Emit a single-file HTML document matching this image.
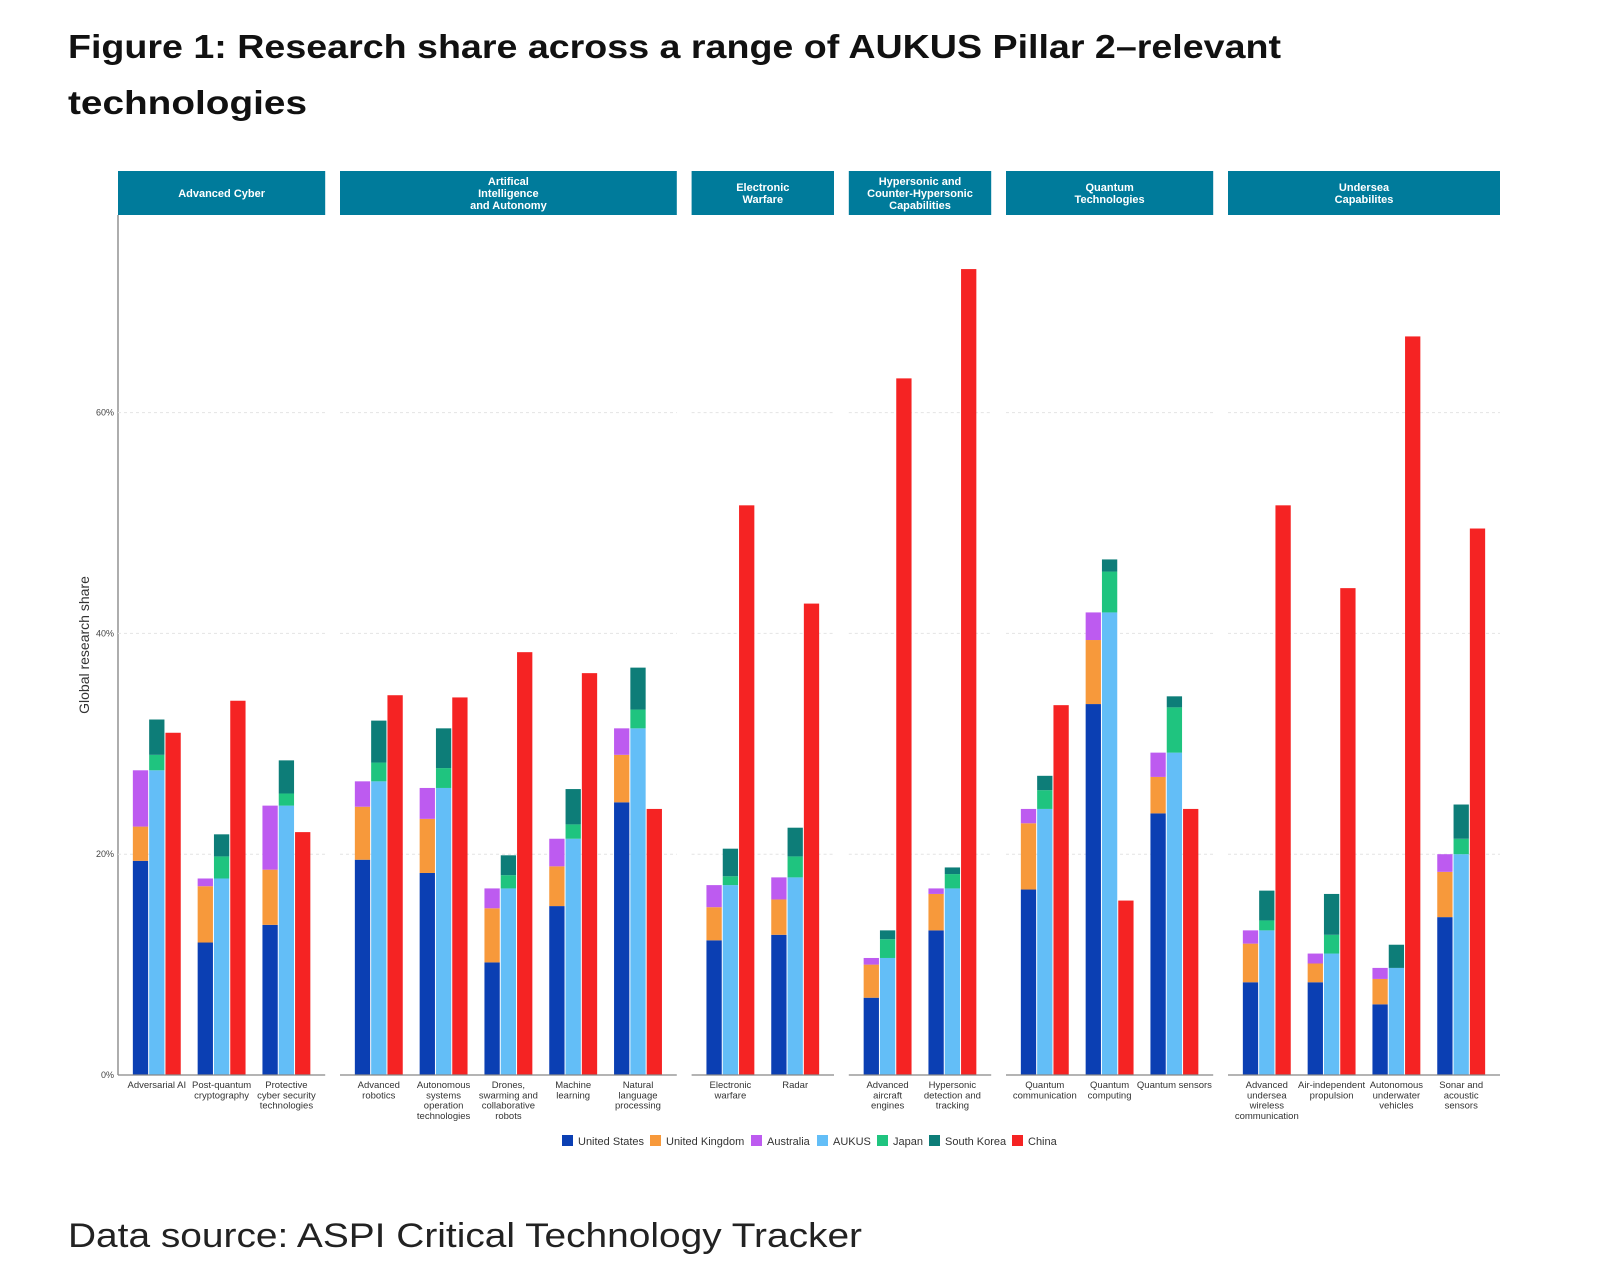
<!DOCTYPE html>
<html><head><meta charset="utf-8"><style>
html,body{margin:0;padding:0;background:#fff;}
svg{display:block;font-family:"Liberation Sans",Arial,sans-serif;}
</style></head><body>
<svg id="chart" width="1600" height="1273" viewBox="0 0 1600 1273" xmlns="http://www.w3.org/2000/svg">
<text x="68" y="58" font-size="33" font-weight="bold" fill="#111" textLength="1213" lengthAdjust="spacingAndGlyphs">Figure 1: Research share across a range of AUKUS Pillar 2–relevant</text>
<text x="68" y="114" font-size="33" font-weight="bold" fill="#111" textLength="239" lengthAdjust="spacingAndGlyphs">technologies</text>
<text x="68" y="1247" font-size="34" fill="#222" textLength="794" lengthAdjust="spacingAndGlyphs">Data source: ASPI Critical Technology Tracker</text>
<g id="plot"></g>
</svg>
<script>
const panels = ["Advanced Cyber|", "Artifical|Intelligence|and Autonomy", "Electronic|Warfare", "Hypersonic and|Counter-Hypersonic|Capabilities", "Quantum|Technologies", "Undersea|Capabilites"];
const panelSizes = [3, 5, 2, 2, 3, 4];
const categories = ["Adversarial AI","Post-quantum|cryptography","Protective|cyber security|technologies","Advanced|robotics","Autonomous|systems|operation|technologies","Drones,|swarming and|collaborative|robots","Machine|learning","Natural|language|processing","Electronic|warfare","Radar","Advanced|aircraft|engines","Hypersonic|detection and|tracking","Quantum|communication","Quantum|computing","Quantum sensors","Advanced|undersea|wireless|communication","Air-independent|propulsion","Autonomous|underwater|vehicles","Sonar and|acoustic|sensors"];
const usShare = [19.4,12.0,13.6,19.5,18.3,10.2,15.3,24.7,12.2,12.7,7.0,13.1,16.8,33.6,23.7,8.4,8.4,6.4,14.3];
const ukShare = [3.1,5.1,5.0,4.8,4.9,4.9,3.6,4.3,3.0,3.2,3.0,3.3,6.0,5.8,3.3,3.5,1.7,2.3,4.1];
const auShare = [5.1,0.7,5.8,2.3,2.8,1.8,2.5,2.4,2.0,2.0,0.6,0.5,1.3,2.5,2.2,1.2,0.9,1.0,1.6];
const jpShare = [1.4,2.0,1.1,1.7,1.8,1.2,1.3,1.7,0.8,1.9,1.7,1.3,1.7,3.7,4.1,0.9,1.7,0.0,1.4];
const krShare = [3.2,2.0,3.0,3.8,3.6,1.8,3.2,3.8,2.5,2.6,0.8,0.6,1.3,1.1,1.0,2.7,3.7,2.1,3.1];
const cnShare = [31.0,33.9,22.0,34.4,34.2,38.3,36.4,24.1,51.6,42.7,63.1,73.0,33.5,15.8,24.1,51.6,44.1,66.9,49.5];
const yTicks = [0,20,40,60];
const yTickLabels = ["0%","20%","40%","60%"];
const legendNames = ["United States","United Kingdom","Australia","AUKUS","Japan","South Korea","China"];

const C = {us:"#0b3fb3",uk:"#f7993b",au:"#bd5bf0",aukus:"#63bef7",jp:"#1fc47f",kr:"#0d7d78",cn:"#f52323"};
const legendColors = [C.us,C.uk,C.au,C.aukus,C.jp,C.kr,C.cn];
const NS="http://www.w3.org/2000/svg";
const g=document.getElementById('plot');
const y0=1075, pxPer=11.04;
const y=v=>y0-v*pxPer;
const spacing=64.8, pad=38.8, bw=16.3, panelGap=14.8, left0=118;
function mk(tag,attrs,parent){const e=document.createElementNS(NS,tag);for(const k in attrs)e.setAttribute(k,attrs[k]);(parent||g).appendChild(e);return e;}

// y axis
let ax=mk('line',{x1:118,x2:118,y1:215,y2:y0,stroke:'#777','stroke-width':1.2});


yTicks.forEach((t,i)=>{
  const tl=mk('text',{x:114,y:y(t)+3,'font-size':9,'text-anchor':'end',fill:'#444'});
  tl.textContent=yTickLabels[i];
  
  
});
const yt=mk('text',{x:0,y:0,'font-size':14,'text-anchor':'middle',fill:'#333',transform:'translate(89,645) rotate(-90)'});
yt.textContent='Global research share';



let x=left0, ci=0;
panels.forEach((p,pi)=>{
  const n=panelSizes[pi];
  const w=2*pad+(n-1)*spacing;
  const hb=mk('rect',{x:x,y:171,width:w,height:44,fill:'#007b9b'});
  
  
  const lines=p.split('|').filter(s=>s);
  lines.forEach((ln,li)=>{
    const ht=mk('text',{x:x+w/2,y:193+(li-(lines.length-1)/2)*12+4,'font-size':11,'font-weight':'bold','text-anchor':'middle',fill:'#fff'});
    ht.textContent=ln;
    
    
  });
  yTicks.slice(1).forEach(t=>{
    const gl=mk('line',{x1:x,x2:x+w,y1:y(t),y2:y(t),stroke:'#e4e4e4','stroke-width':1,'stroke-dasharray':'3,3'});
    
    
  });
  for(let k=0;k<n;k++,ci++){
    const cx=x+pad+k*spacing;
    const x1=cx-bw*1.5, x2=cx-bw/2, x3=cx+bw/2;
    const segs=[[x1,0,usShare[ci],C.us,'bar-united-states'],[x1,usShare[ci],ukShare[ci],C.uk,'bar-united-kingdom'],[x1,usShare[ci]+ukShare[ci],auShare[ci],C.au,'bar-australia']];
    const aukus=usShare[ci]+ukShare[ci]+auShare[ci];
    segs.push([x2,0,aukus,C.aukus,'bar-aukus'],[x2,aukus,jpShare[ci],C.jp,'bar-japan'],[x2,aukus+jpShare[ci],krShare[ci],C.kr,'bar-south-korea'],[x3,0,cnShare[ci],C.cn,'bar-china']);
    segs.forEach(s=>{
      if(s[2]<=0)return;
      const r=mk('rect',{x:s[0]+0.5,y:y(s[1]+s[2]),width:bw-1,height:s[2]*pxPer,fill:s[3]});
      
      
    });
    categories[ci].split('|').forEach((ln,li)=>{
      const t=mk('text',{x:cx,y:y0+13+li*10.3,'font-size':9.5,'text-anchor':'middle',fill:'#333'});
      t.textContent=ln;
      
      
    });
  }
  const bl=mk('line',{x1:x,x2:x+w,y1:y0,y2:y0,stroke:'#888','stroke-width':1.3});
  
  
  x+=w+panelGap;
});

// legend
const legX=[562,650,751,817,877,929,1012];
legendNames.forEach((nm,i)=>{
  const sq=mk('rect',{x:legX[i],y:1135,width:11,height:11,fill:legendColors[i]});
  
  
  const t=mk('text',{x:legX[i]+16,y:1145,'font-size':11,fill:'#333'});
  t.textContent=nm;
  
  
});
</script>
</body></html>
